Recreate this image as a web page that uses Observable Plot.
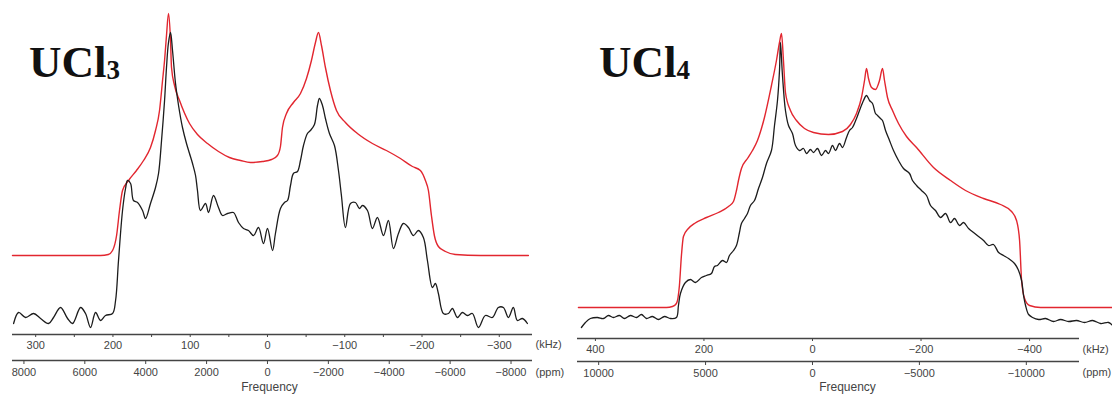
<!DOCTYPE html>
<html>
<head>
<meta charset="utf-8">
<script src="https://cdn.jsdelivr.net/npm/d3@7"></script>
<script src="https://cdn.jsdelivr.net/npm/@observablehq/plot@0.6"></script>
<style>
  body { margin: 0; background: #fff; }
  #wrap { position: relative; width: 1112px; height: 396px; overflow: hidden; background: #fff; }
  .panel { position: absolute; top: 0; }
  .panel svg { overflow: visible; }
  .title { position: absolute; top: 40px; font: bold 45px "Liberation Serif", "Times New Roman", serif; line-height: 45px; color: #111; white-space: nowrap; }
  .title span { font-size: 0.6em; vertical-align: -2px; letter-spacing: 0; }
</style>
</head>
<body>
<div id="wrap"></div>
<script>
// 35Cl Larmor frequency (MHz) linking the kHz and ppm scales
const LARMOR_MHZ = 39.4;

// ---- UCl3 : [frequency kHz, intensity a.u.] ----
const ucl3Sim = [[330,79],[268,79],[216,79],[206,80],[200.5,84],[195.3,99],[191.5,124],[187.6,144],[179.8,154],[169.5,164],[160.4,174],[151.4,187],[144.9,204],[139.7,224],[135.8,254],[133.2,274],[130.7,299],[128.1,321],[125.5,294],[124.2,267],[120.3,249],[113.8,234],[100.9,211],[90.6,200],[77.6,191],[63.4,183],[49.2,177],[34.9,174],[22,172],[6.5,173],[-5.2,175],[-12.9,179],[-16.8,188],[-19.4,207],[-24.6,221],[-33.6,232],[-42.7,241],[-50.5,256],[-56.9,274],[-62.1,292],[-66,302],[-69.9,289],[-75,267],[-81.5,244],[-89.3,224],[-100.9,212],[-116.4,201],[-135.8,191],[-153.9,184],[-172.1,176],[-187.6,168],[-197.9,164],[-204.4,154],[-208.3,144],[-212.2,119],[-216,99],[-221.2,88],[-230.3,83],[-243.2,80],[-275.6,79],[-337.7,79]];
const ucl3Exp = [[328.6,11],[322.1,22],[313.1,17],[302.7,21],[293.7,16],[283.3,11],[276.9,17],[267.8,27],[258.7,16],[252.3,11],[241.9,27],[235.5,21],[229,7],[222.5,22],[216,14],[209.6,19],[200.5,21],[196.6,34],[192.8,74],[187.6,124],[183.7,146],[181.1,154],[177.2,151],[173.4,134],[168.2,132],[161.7,124],[157.8,116],[151.4,131],[144.9,147],[141,161],[137.1,194],[133.2,234],[130.7,267],[128.1,292],[125.5,302],[122.9,284],[119,251],[115.1,229],[110,207],[104.8,191],[100.9,181],[97,171],[93.1,159],[90.6,144],[86.7,124],[80.2,131],[76.3,122],[69.9,139],[63.4,127],[58.2,119],[51.7,121],[44,122],[37.5,112],[31,106],[24.6,104],[18.1,99],[11.6,107],[5.2,91],[0,106],[-6.5,84],[-10.3,101],[-16.8,126],[-22,132],[-25.9,134],[-29.8,149],[-33.6,161],[-38.8,163],[-42.7,174],[-46.6,189],[-51.7,201],[-55.6,204],[-60.8,210],[-64.7,229],[-67.3,236],[-71.2,229],[-75,216],[-80.2,201],[-86.7,189],[-91.9,164],[-95.7,139],[-100.9,107],[-107.4,131],[-113.8,132],[-119,126],[-122.9,129],[-129.4,124],[-135.8,106],[-142.3,117],[-150.1,99],[-156.5,114],[-163,86],[-169.5,101],[-175.9,111],[-182.4,107],[-188.9,99],[-195.3,104],[-201.8,97],[-207,74],[-213.5,47],[-217.3,51],[-221.2,41],[-227.7,21],[-234.2,21],[-239.3,26],[-245.8,17],[-252.3,22],[-258.7,19],[-265.2,21],[-273,7],[-282,19],[-291.1,17],[-298.8,27],[-305.3,27],[-311.8,17],[-318.2,27],[-323.4,14],[-329.9,16],[-336.4,11]];
const ucl3KhzTicks = [300, 200, 100, 0, -100, -200, -300];
const ucl3KhzMinor = [250, 150, 50, -50, -150, -250];
const ucl3PpmTicks = [8000, 6000, 4000, 2000, 0, -2000, -4000, -6000, -8000];

// ---- UCl4 : [frequency kHz, intensity a.u.] ----
const ucl4Sim = [[431.3,31],[353.9,31],[269.1,31],[258.1,32],[250.7,35],[245.2,53],[241.5,83],[237.8,102],[228.6,110],[217.5,115],[195.4,121],[173.3,126],[154.8,132],[145.6,137],[140.1,148],[136.4,158],[130.9,170],[119.8,180],[110.6,188],[101.4,198],[88.5,221],[75.6,253],[66.4,278],[60.8,296],[57.1,305],[53.5,278],[49.8,246],[40.6,228],[29.5,218],[14.7,210],[-1.8,206],[-29.5,204],[-55.3,207],[-70,214],[-81.1,225],[-90.3,241],[-95.9,258],[-99.5,270],[-103.2,260],[-108.8,251],[-116.1,249],[-123.5,258],[-129,270],[-132.7,258],[-138.2,241],[-147.5,228],[-158.5,215],[-173.3,202],[-191.7,191],[-223,171],[-254.4,158],[-282,148],[-315.2,140],[-346.5,134],[-366.8,127],[-376,118],[-381.6,98],[-385.3,58],[-390.8,40],[-400,33],[-420.3,31],[-553,31]];
const ucl4Exp = [[425.8,11],[418.4,16],[409.2,20],[396.3,21],[385.2,20],[376,23],[366.8,21],[355.8,23],[346.5,20],[335.5,23],[324.4,21],[315.2,24],[306,20],[294.9,22],[283.9,19],[272.8,22],[261.7,20],[250.7,21],[247,33],[243.3,45],[234.1,56],[224.9,59],[215.7,56],[204.6,61],[195.4,63],[186.2,65],[180.6,72],[175.1,73],[165.9,78],[158.5,76],[153,83],[145.6,88],[140.1,93],[134.6,106],[130.9,115],[125.3,120],[119.8,125],[114.3,133],[106.9,138],[99.5,150],[92.2,161],[84.8,175],[75.6,188],[70,213],[64.5,238],[60.8,268],[59,296],[55.3,263],[49.8,228],[44.2,213],[36.9,205],[31.3,193],[24,188],[16.6,190],[11.1,185],[3.7,189],[-1.8,186],[-9.2,190],[-16.6,183],[-24,188],[-29.5,185],[-36.9,193],[-42.4,188],[-49.8,195],[-55.3,191],[-62.7,201],[-68.2,208],[-73.7,211],[-81.1,220],[-86.6,228],[-94,238],[-99.5,243],[-105.1,238],[-110.6,235],[-116.1,225],[-119.8,223],[-125.3,220],[-129,218],[-134.6,208],[-141.9,198],[-149.3,188],[-158.5,178],[-167.7,170],[-178.8,165],[-184.3,158],[-191.7,153],[-200.9,148],[-210.1,143],[-217.5,133],[-226.7,128],[-235.9,121],[-245.2,125],[-254.4,116],[-261.7,120],[-271,113],[-278.3,116],[-287.6,110],[-296.8,106],[-306,102],[-315.2,98],[-324.4,93],[-333.6,94],[-342.9,86],[-352.1,83],[-361.3,80],[-372.3,75],[-379.7,68],[-385.3,58],[-388.9,43],[-392.6,33],[-398.2,24],[-405.5,21],[-416.6,19],[-429.5,20],[-444.2,17],[-457.1,19],[-471.9,17],[-486.6,18],[-501.4,16],[-516.1,18],[-530.9,15],[-545.6,16],[-553,13]];
const ucl4KhzTicks = [400, 200, 0, -200, -400];
const ucl4KhzMinor = [];
const ucl4PpmTicks = [10000, 5000, 0, -5000, -10000];

const fmt = v => (v < 0 ? "\u2212" : "") + Math.abs(v);
const toKhz = ppm => ppm * LARMOR_MHZ / 1000;
const toPpm = khz => Math.round(khz * 1000 / LARMOR_MHZ / 10) * 10;

const AXIS = "#444";
const RED = "#e2262f";
const BLACK = "#1c1c1c";

function panel(o) {
  return Plot.plot({
    width: 556,
    height: 396,
    marginTop: 0,
    marginLeft: o.marginLeft,
    marginRight: o.marginRight,
    marginBottom: o.marginBottom,
    style: {fontFamily: "Liberation Sans, Arial, sans-serif", background: "transparent", overflow: "visible"},
    x: {domain: o.domain, axis: null},
    y: {domain: [0, o.yMax], axis: null},
    marks: [
      Plot.line(o.sim, {x: d => d[0], y: d => d[1], stroke: RED, strokeWidth: 1.4, curve: "monotone-x"}),
      Plot.line(o.exp, {x: d => d[0], y: d => d[1], stroke: BLACK, strokeWidth: 1.3, curve: "catmull-rom"}),
      Plot.ruleY([0], {stroke: AXIS, strokeWidth: 1.5}),
      Plot.ruleY([0], {stroke: AXIS, strokeWidth: 1.5, dy: o.ppmOffset}),
      Plot.axisX({ticks: o.khzTicks, tickSize: 3, tickPadding: o.khzPad, tickFormat: fmt, fontSize: 11, color: AXIS, label: null}),
      o.khzMinor.length ? Plot.axisX({ticks: o.khzMinor, tickSize: 3, tickFormat: () => "", color: AXIS, label: null}) : null,
      Plot.axisX({ticks: o.ppmTicks.map(toKhz), tickSize: 4, tickPadding: o.ppmPad, dy: o.ppmOffset, tickFormat: d => fmt(toPpm(d)), fontSize: 11, color: AXIS, label: null}),
      Plot.text(["(kHz)"], {frameAnchor: "bottom-right", textAnchor: "start", lineAnchor: "middle", dx: 3, dy: o.khzLabelDy, fontSize: 11, fill: AXIS}),
      Plot.text(["(ppm)"], {frameAnchor: "bottom-right", textAnchor: "start", lineAnchor: "middle", dx: 3, dy: o.ppmLabelDy, fontSize: 11, fill: AXIS}),
      Plot.text(["Frequency"], {frameAnchor: "bottom", lineAnchor: "middle", dx: o.freqDx, dy: o.freqDy, fontSize: 12, fill: AXIS})
    ]
  });
}

const wrap = document.getElementById("wrap");

const left = panel({
  sim: ucl3Sim, exp: ucl3Exp, khzTicks: ucl3KhzTicks, khzMinor: ucl3KhzMinor, ppmTicks: ucl3PpmTicks,
  domain: [330, -343], yMax: 334, marginLeft: 12, marginRight: 24, marginBottom: 62,
  ppmOffset: 26, khzPad: 4, ppmPad: 4, khzLabelDy: 10, ppmLabelDy: 38, freqDx: -3, freqDy: 53
});
const right = panel({
  sim: ucl4Sim, exp: ucl4Exp, khzTicks: ucl4KhzTicks, khzMinor: ucl4KhzMinor, ppmTicks: ucl4PpmTicks,
  domain: [433, -492], yMax: 338, marginLeft: 21, marginRight: 33, marginBottom: 58,
  ppmOffset: 23, khzPad: 4, ppmPad: 4, khzLabelDy: 11, ppmLabelDy: 34, freqDx: 19, freqDy: 49
});

const d1 = document.createElement("div"); d1.className = "panel"; d1.style.left = "0px"; d1.appendChild(left);
const d2 = document.createElement("div"); d2.className = "panel"; d2.style.left = "556px"; d2.appendChild(right);
wrap.appendChild(d1); wrap.appendChild(d2);

const t1 = document.createElement("div"); t1.className = "title"; t1.style.left = "29px"; t1.innerHTML = "UCl<span>3</span>";
const t2 = document.createElement("div"); t2.className = "title"; t2.style.left = "599px"; t2.innerHTML = "UCl<span>4</span>";
wrap.appendChild(t1); wrap.appendChild(t2);
</script>
</body>
</html>
